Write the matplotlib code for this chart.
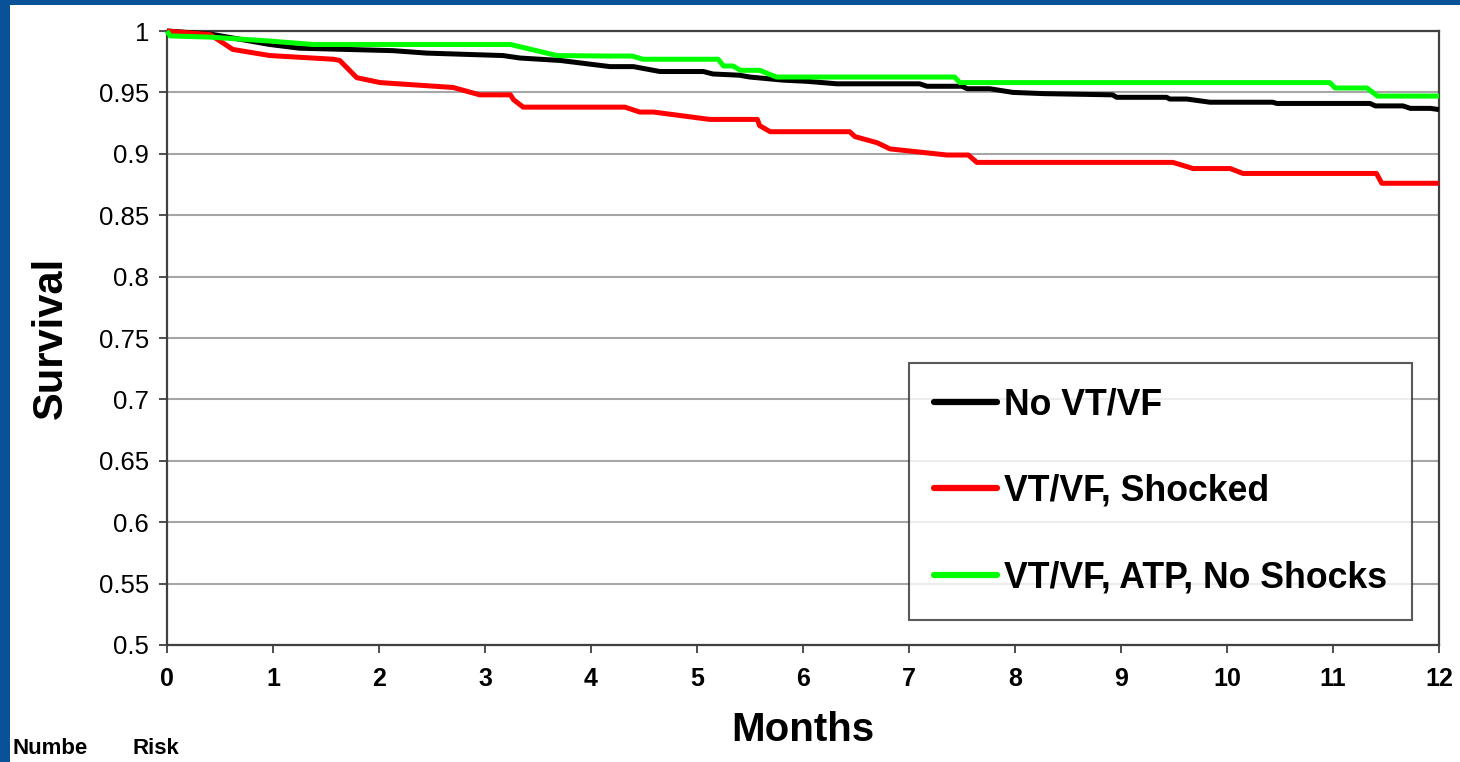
import matplotlib
matplotlib.use("Agg")
import matplotlib.pyplot as plt
from matplotlib.patches import Rectangle

plt.rcParams['font.family'] = ['Liberation Sans', 'DejaVu Sans']

# Kaplan-Meier style survival estimates (months, survival)
no_vtvf_months = [0, 0.41, 0.97, 1.25, 2.13, 2.45, 3.17, 3.33, 3.71, 4.18, 4.4, 4.65, 5.06,
                  5.15, 5.4, 5.5, 5.81, 6.04, 6.32, 7.1, 7.17, 7.5, 7.55, 7.76, 7.98, 8.27,
                  8.92, 8.96, 9.43, 9.46, 9.62, 9.84, 10.43, 10.47, 11.35, 11.40, 11.66,
                  11.73, 11.92, 12]
no_vtvf_surv = [1.0, 0.9975, 0.989, 0.986, 0.984, 0.982, 0.980, 0.978, 0.976, 0.971, 0.971,
                0.967, 0.967, 0.965, 0.964, 0.9625, 0.960, 0.959, 0.957, 0.957, 0.955, 0.955,
                0.953, 0.953, 0.950, 0.949, 0.948, 0.946, 0.946, 0.9446, 0.9446, 0.942, 0.942,
                0.941, 0.941, 0.939, 0.939, 0.937, 0.937, 0.936]

shocked_months = [0, 0.41, 0.62, 0.97, 1.57, 1.63, 1.79, 2.01, 2.7, 2.95, 3.24, 3.27, 3.36,
                  4.32, 4.46, 4.59, 5.12, 5.57, 5.59, 5.69, 6.44, 6.49, 6.70, 6.82, 7.36,
                  7.56, 7.64, 9.49, 9.68, 10.03, 10.15, 11.41, 11.46, 12]
shocked_surv = [1.0, 0.997, 0.985, 0.980, 0.977, 0.976, 0.962, 0.958, 0.954, 0.948, 0.948,
                0.944, 0.938, 0.938, 0.934, 0.934, 0.928, 0.928, 0.923, 0.918, 0.918, 0.914,
                0.909, 0.904, 0.899, 0.899, 0.893, 0.893, 0.888, 0.888, 0.884, 0.884, 0.876,
                0.876]

atp_months = [0, 0.03, 0.41, 0.94, 1.38, 3.24, 3.68, 4.18, 4.39, 4.49, 5.2, 5.25, 5.34, 5.41,
              5.59, 5.75, 7.43, 7.48, 10.97, 11.02, 11.32, 11.42, 12]
atp_surv = [1.0, 0.996, 0.995, 0.992, 0.989, 0.989, 0.980, 0.9796, 0.9796, 0.977, 0.977,
            0.9715, 0.9715, 0.968, 0.968, 0.9625, 0.9625, 0.958, 0.958, 0.9536, 0.9536,
            0.947, 0.947]

series_labels = ["No VT/VF", "VT/VF, Shocked", "VT/VF, ATP, No Shocks"]
series_colors = ["#000000", "#ff0000", "#00ff00"]

x_ticks = list(range(0, 13))
y_ticks = [0.5, 0.55, 0.6, 0.65, 0.7, 0.75, 0.8, 0.85, 0.9, 0.95, 1.0]
y_tick_labels = ["0.5", "0.55", "0.6", "0.65", "0.7", "0.75", "0.8", "0.85", "0.9", "0.95", "1"]

fig = plt.figure(figsize=(14.6, 7.62), dpi=100)
fig.patch.set_facecolor("white")

# blue slide frame along the left and top edges
blue = "#0a5298"
fig.add_artist(Rectangle((0, 0), 10 / 1460, 1, transform=fig.transFigure,
                         facecolor=blue, edgecolor="none", zorder=0))
fig.add_artist(Rectangle((0, 1 - 5 / 762), 1, 5 / 762, transform=fig.transFigure,
                         facecolor=blue, edgecolor="none", zorder=0))

ax = fig.add_axes([167 / 1460, 1 - 645 / 762, (1439 - 167) / 1460, (645 - 31) / 762])

for xs, ys, lab, col in zip([no_vtvf_months, shocked_months, atp_months],
                            [no_vtvf_surv, shocked_surv, atp_surv],
                            series_labels, series_colors):
    ax.plot(xs, ys, color=col, lw=3.6, label=lab, solid_capstyle="butt",
            solid_joinstyle="round", zorder=3, clip_on=False)

ax.set_xlim(0, 12)
ax.set_ylim(0.5, 1.0)
ax.set_xticks(x_ticks)
ax.set_xticklabels([str(t) for t in x_ticks], fontsize=18, fontweight="bold")
ax.set_yticks(y_ticks)
ax.set_yticklabels(y_tick_labels, fontsize=18.5)
ax.tick_params(axis="both", direction="out", length=6, width=1.3, color="#404040")
ax.tick_params(axis="y", pad=7)
ax.tick_params(axis="x", pad=10)

ax.yaxis.grid(True, color="#a6a6a6", lw=1.5, zorder=1)
ax.set_axisbelow(True)
for s in ax.spines.values():
    s.set_color("#404040")
    s.set_linewidth(1.6)

ax.set_xlabel("Months", fontsize=29, fontweight="bold", labelpad=14)
ax.set_ylabel("Survival", fontsize=30, fontweight="bold", labelpad=20)

leg = ax.legend(loc="lower right", bbox_to_anchor=(0.9788, 0.0407),
                prop={"weight": "bold", "size": 25.7}, frameon=True, fancybox=False,
                borderpad=0.7, labelspacing=1.43, handlelength=1.75, handletextpad=0.2,
                borderaxespad=0)
leg.get_frame().set_edgecolor("#303030")
leg.get_frame().set_linewidth(1.5)
for line in leg.get_lines():
    line.set_linewidth(4.5)
    line.set_solid_capstyle("round")

fig.text(13 / 1460, 1 - 748 / 762, "Numbe", fontsize=16, fontweight="bold", va="center")
fig.text(133 / 1460, 1 - 748 / 762, "Risk", fontsize=16, fontweight="bold", va="center")

fig.savefig("out.png", dpi=100, facecolor="white")
